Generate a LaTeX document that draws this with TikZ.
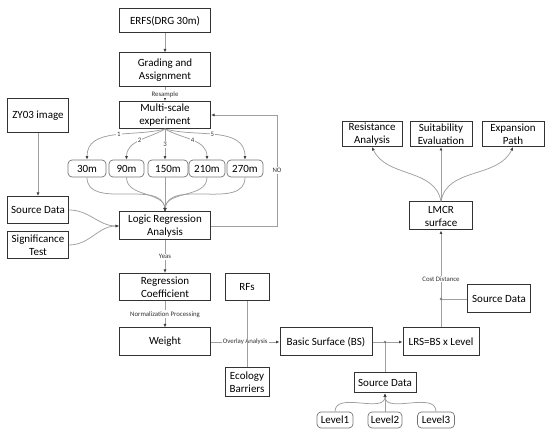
\documentclass[tikz,border=0pt]{standalone}
\usepackage{fontspec}
\setmainfont{Carlito}
\usetikzlibrary{arrows.meta,calc}

\begin{document}
\begin{tikzpicture}[x=1pt, y=1pt,
  box/.style={rectangle, draw=black!80, line width=1pt, align=center, font=\fontsize{11}{13}\selectfont, inner sep=1pt},
  sbox/.style={box, rounded corners=4pt, draw=black!55, line width=0.7pt},
  arrow/.style={-{Latex[length=3.5pt,width=3pt,color=black!75]}, draw=gray!75, line width=0.75pt},
  link/.style={draw=gray!75, line width=0.75pt},
  label/.style={font=\fontsize{6.8}{7}\selectfont, fill=white, inner sep=1pt, text=black!80},
]
\useasboundingbox (0,0) rectangle (550,-435);

% === LEFT COLUMN ===
\node[box, minimum width=91pt, minimum height=24pt] (erfs) at (165,-21) {ERFS(DRG 30m)};
\node[box, minimum width=91pt, minimum height=34pt] (grad) at (165,-70) {Grading and\\Assignment};
\node[box, minimum width=91pt, minimum height=27pt] (multi) at (165,-115) {Multi-scale\\experiment};
\node[box, minimum width=61pt, minimum height=34pt] (zy) at (38,-116) {ZY03 image};

\node[sbox, minimum width=38pt, minimum height=17pt] (s30) at (87,-168.5) {30m};
\node[sbox, minimum width=35pt, minimum height=17pt] (s90) at (126.5,-168.5) {90m};
\node[sbox, minimum width=40pt, minimum height=17pt] (s150) at (168,-168.5) {150m};
\node[sbox, minimum width=36pt, minimum height=17pt] (s210) at (207,-168.5) {210m};
\node[sbox, minimum width=36pt, minimum height=17pt] (s270) at (245,-168.5) {270m};

\node[box, minimum width=61pt, minimum height=27pt] (src1) at (38,-210) {Source Data};
\node[box, minimum width=61pt, minimum height=27pt] (sig) at (38,-245) {Significance\\Test};
\node[box, minimum width=91pt, minimum height=28pt] (lra) at (165,-226) {Logic Regression\\Analysis};
\node[box, minimum width=91pt, minimum height=27pt] (coef) at (165,-287) {Regression\\Coefficient};
\node[box, minimum width=91pt, minimum height=28pt] (weight) at (165,-342) {Weight};
\node[box, minimum width=44pt, minimum height=27pt] (rfs) at (247,-287) {RFs};
\node[box, minimum width=44pt, minimum height=29pt] (eco) at (247,-382) {Ecology\\Barriers};

% === RIGHT PART ===
\node[box, minimum width=92pt, minimum height=28pt] (bs) at (326,-342) {Basic Surface (BS)};
\node[box, minimum width=76pt, minimum height=28pt] (lrs) at (441,-342) {LRS=BS x Level};
\node[box, minimum width=62pt, minimum height=20pt] (src3) at (385,-383) {Source Data};
\node[sbox, minimum width=36pt, minimum height=16pt] (lv1) at (335,-420) {Level1};
\node[sbox, minimum width=34pt, minimum height=16pt] (lv2) at (385,-420) {Level2};
\node[sbox, minimum width=37pt, minimum height=16pt] (lv3) at (436,-420) {Level3};
\node[box, minimum width=63pt, minimum height=28pt] (src2) at (499,-299) {Source Data};
\node[box, minimum width=63pt, minimum height=28pt] (lmcr) at (441,-216) {LMCR\\surface};
\node[box, minimum width=60pt, minimum height=25pt] (res) at (372,-134) {Resistance\\Analysis};
\node[box, minimum width=62pt, minimum height=25pt] (suit) at (441,-134) {Suitability\\Evaluation};
\node[box, minimum width=62pt, minimum height=25pt] (expp) at (513,-134) {Expansion\\Path};

% === CONNECTORS ===
\draw[arrow] (erfs) -- (grad);
\draw[arrow] (grad) -- node[label] {Resample} (multi);
\draw[arrow] (zy) -- (src1);

\draw[arrow] (multi.south) to[out=195,in=90] node[label, pos=0.45] {1} (s30.north);
\draw[arrow] (multi.south) to[out=210,in=90] node[label, pos=0.5] {2} (s90.north);
\draw[arrow] (multi.south) -- node[label] {3} (multi.south |- s150.north);
\draw[arrow] (multi.south) to[out=-30,in=90] node[label, pos=0.5] {4} (s210.north);
\draw[arrow] (multi.south) to[out=-15,in=90] node[label, pos=0.45] {5} (s270.north);

\draw[arrow] (s30.south) to[out=-90,in=95] (lra.north);
\draw[arrow] (s90.south) to[out=-90,in=92] (lra.north);
\draw[arrow] (multi.south |- s150.south) -- (lra.north);
\draw[arrow] (s210.south) to[out=-90,in=88] (lra.north);
\draw[arrow] (s270.south) to[out=-90,in=85] (lra.north);

\draw[arrow] (src1.east) to[out=0,in=180] (lra.west);
\draw[arrow] (sig.east) to[out=0,in=180] (lra.west);
\draw[arrow] (lra.east) -- ++(66,0) |- node[label, pos=0.25] {NO} (multi.east);

\draw[arrow] (lra) -- node[label] {Yeas} (coef);
\draw[arrow] (coef) -- node[label] {Normalization Processing} (weight);
\draw[arrow] (weight) -- node[label] {Overlay Analysis} (bs);
\draw[link] (rfs) -- (eco);

\coordinate (jbs) at (src3.north |- bs.east);
\draw[arrow] (bs) -- (lrs);
\draw[link] (src3) -- (jbs);
\fill[gray] (jbs) circle (1.4pt);

\draw[arrow] (lv1.north) to[out=90,in=-90] (src3.south);
\draw[arrow] (lv2) -- (src3);
\draw[arrow] (lv3.north) to[out=90,in=-90] (src3.south);

\coordinate (jcd) at (lrs.north |- src2.west);
\draw[arrow] (lrs) -- node[label, pos=0.5] {Cost Distance} (lmcr);
\draw[link] (src2) -- (jcd);
\fill[gray] (jcd) circle (1.4pt);

\draw[arrow] (lmcr.north) to[out=100,in=-65] (res.south);
\draw[arrow] (lmcr) -- (suit);
\draw[arrow] (lmcr.north) to[out=80,in=-115] (expp.south);
\end{tikzpicture}
\end{document}
